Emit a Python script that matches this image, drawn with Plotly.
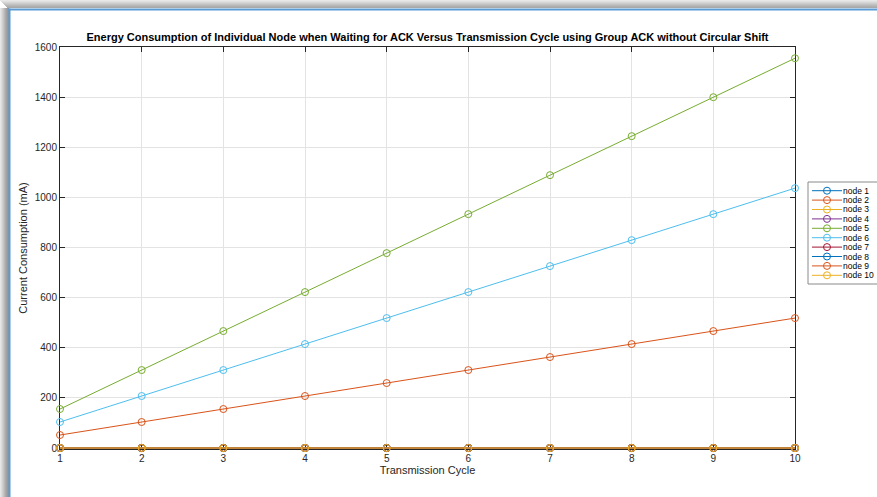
import plotly.graph_objects as go

# ---------------- data ----------------
cycles = [1, 2, 3, 4, 5, 6, 7, 8, 9, 10]
node_names = ["node 1", "node 2", "node 3", "node 4", "node 5",
              "node 6", "node 7", "node 8", "node 9", "node 10"]
node1 = [0, 0, 0, 0, 0, 0, 0, 0, 0, 0]
node2 = [51.8, 103.7, 155.5, 207.4, 259.2, 311.0, 362.9, 414.7, 466.6, 518.4]
node3 = [0, 0, 0, 0, 0, 0, 0, 0, 0, 0]
node4 = [0, 0, 0, 0, 0, 0, 0, 0, 0, 0]
node5 = [155.5, 311.0, 466.6, 622.1, 777.6, 933.1, 1088.6, 1244.2, 1399.7, 1555.2]
node6 = [103.7, 207.4, 311.0, 414.7, 518.4, 622.1, 725.8, 829.4, 933.1, 1036.8]
node7 = [0, 0, 0, 0, 0, 0, 0, 0, 0, 0]
node8 = [0, 0, 0, 0, 0, 0, 0, 0, 0, 0]
node9 = [0, 0, 0, 0, 0, 0, 0, 0, 0, 0]
node10 = [0, 0, 0, 0, 0, 0, 0, 0, 0, 0]
series = [node1, node2, node3, node4, node5, node6, node7, node8, node9, node10]
colors = ["#0072BD", "#D95319", "#EDB120", "#7E2F8E", "#77AC30",
          "#4DBEEE", "#A2142F", "#0072BD", "#D95319", "#EDB120"]
y_ticks = [0, 200, 400, 600, 800, 1000, 1200, 1400, 1600]

# ---------------- layout geometry ----------------
W, H = 877, 497
L, R, T, B = 60, 795, 47, 449   # plot area in pixels
FONT = "Liberation Sans, Arial, Helvetica, sans-serif"
TXT = "#262626"


def xp(px):
    return (px - L) / (R - L)


def yp(py):
    return (B - py) / (B - T)


fig = go.Figure()
for name, vals, col in zip(node_names, series, colors):
    fig.add_trace(go.Scatter(
        x=cycles, y=vals, name=name, mode="lines+markers",
        line=dict(color=col, width=1),
        marker=dict(symbol="circle-open", size=7, color=col, line=dict(width=1)),
        showlegend=False, cliponaxis=False,
    ))

shapes = []
annotations = []

# window frame shadow (left and top) and blue border
grays = ["#e6e6e6", "#dcdcdc", "#d0d0d0", "#c4c4c4", "#b8b8b8", "#acacac", "#a2a2a2", "#9a9a9a", "#949494"]
for i, g in enumerate(grays):
    shapes.append(dict(type="rect", xref="paper", yref="paper",
                       x0=xp(i), x1=xp(i + 1), y0=yp(H), y1=yp(8),
                       fillcolor=g, line=dict(width=0), layer="above"))
tgr = ["#e8e8e8", "#e0e0e0", "#d6d6d6", "#cccccc", "#c2c2c2", "#b8b8b8", "#b0b0b0", "#a8a8a8"]
for i, g in enumerate(tgr):
    shapes.append(dict(type="rect", xref="paper", yref="paper",
                       x0=xp(i), x1=xp(W), y0=yp(i + 1), y1=yp(i),
                       fillcolor=g, line=dict(width=0), layer="above"))
shapes.append(dict(type="rect", xref="paper", yref="paper",
                   x0=xp(8.5), x1=xp(10.5), y0=yp(H), y1=yp(8.5),
                   fillcolor="#5b9bd5", line=dict(width=0), layer="above"))
shapes.append(dict(type="rect", xref="paper", yref="paper",
                   x0=xp(8.5), x1=xp(W), y0=yp(10.5), y1=yp(8.5),
                   fillcolor="#5b9bd5", line=dict(width=0), layer="above"))

# legend (built from names / colors)
lx0, ly0, ly1 = 808, 182, 284
shapes.append(dict(type="rect", xref="paper", yref="paper",
                   x0=xp(lx0), x1=xp(W + 5), y0=yp(ly1), y1=yp(ly0),
                   fillcolor="white", line=dict(color="#8a8a8a", width=1), layer="above"))
step = (ly1 - ly0 - 8) / len(node_names)
for i, (name, col) in enumerate(zip(node_names, colors)):
    cy = ly0 + 4 + step * (i + 0.5)
    shapes.append(dict(type="line", xref="paper", yref="paper",
                       x0=xp(812), x1=xp(842), y0=yp(cy), y1=yp(cy),
                       line=dict(color=col, width=1), layer="above"))
    shapes.append(dict(type="circle", xref="paper", yref="paper",
                       x0=xp(823.5), x1=xp(830.5), y0=yp(cy + 3.5), y1=yp(cy - 3.5),
                       line=dict(color=col, width=1), fillcolor="rgba(0,0,0,0)", layer="above"))
    annotations.append(dict(xref="paper", yref="paper", x=xp(843), y=yp(cy),
                            text=name, showarrow=False, xanchor="left", yanchor="middle",
                            xshift=-2, font=dict(family=FONT, size=8.5, color="#000000")))

fig.update_layout(
    width=W, height=H,
    margin=dict(l=L, r=W - R, t=T, b=H - B, pad=0),
    paper_bgcolor="white", plot_bgcolor="white",
    font=dict(family=FONT, size=10, color=TXT),
    title=dict(text="<b>Energy Consumption of Individual Node when Waiting for ACK Versus Transmission Cycle using Group ACK without Circular Shift</b>",
               x=(L + R) / 2 / W, xanchor="center", y=1 - 37 / H, yanchor="middle",
               font=dict(family=FONT, size=11, color="#000000")),
    showlegend=False,
    shapes=shapes,
    annotations=annotations,
)
fig.update_xaxes(
    range=[1, 10], tickvals=cycles, ticks="inside", ticklen=5, tickcolor=TXT,
    showline=True, linecolor=TXT, linewidth=1, mirror="ticks",
    showgrid=True, gridcolor="#e3e3e3", gridwidth=1, zeroline=False,
    layer="below traces",
    tickfont=dict(family=FONT, size=10, color=TXT),
    title=dict(text="Transmission Cycle", standoff=3,
               font=dict(family=FONT, size=11, color=TXT)),
)
fig.update_yaxes(
    range=[-4, 1600], tickvals=y_ticks, ticks="inside", ticklen=5, tickcolor=TXT,
    showline=True, linecolor=TXT, linewidth=1, mirror="ticks",
    showgrid=True, gridcolor="#e3e3e3", gridwidth=1, zeroline=False,
    layer="below traces",
    tickfont=dict(family=FONT, size=10, color=TXT),
    title=dict(text="Current Consumption (mA)", standoff=4,
               font=dict(family=FONT, size=11, color=TXT)),
)

fig.write_html("out.html", config={"displayModeBar": False},
               post_script="document.body.style.margin='0px';document.body.style.overflow='hidden';")
